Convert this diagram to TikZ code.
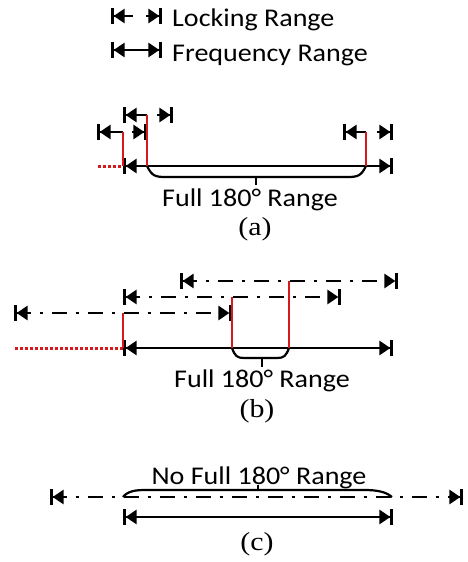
\documentclass[tikz,border=0pt]{standalone}
\usepackage{fontspec}
\usetikzlibrary{arrows.meta,positioning}
\newfontfamily\labelfont{Carlito}[FakeStretch=1.1]
\newfontfamily\capfont{Liberation Serif}[FakeStretch=1.15]
\definecolor{markred}{RGB}{215,25,30}
\tikzset{
  rng/.style={line width=2.6pt},
  freq/.style={rng,{Bar[width=16pt]Triangle[length=11pt,width=14pt]}-{Triangle[length=11pt,width=14pt]Bar[width=16pt]}},
  lockl/.style={rng,{Bar[width=16pt]Triangle[length=11pt,width=14pt]}-},
  lockr/.style={rng,-{Triangle[length=11pt,width=14pt]Bar[width=16pt]}},
  dashdot/.style={dash pattern=on 15pt off 9pt on 3pt off 9pt},
  osc/.style={draw=markred,line width=2.6pt},
  spill/.style={draw=markred,line width=3pt,dash pattern=on 3pt off 2pt},
  brace/.style={line width=2.2pt},
  txt/.style={font=\labelfont\fontsize{25.5}{27}\selectfont,anchor=base,inner sep=0pt},
  caption/.style={font=\capfont\fontsize{26}{28}\selectfont,anchor=base,inner sep=0pt},
}
\begin{document}
\begin{tikzpicture}[x=1pt,y=-1pt]
\useasboundingbox (0,0) rectangle (468,562);

% legend
\coordinate (k1) at (111,16); \coordinate (k2) at (133,16);
\coordinate (k3) at (146,16); \coordinate (k4) at (162,16);
\draw[lockl] (k1) -- (k2);
\draw[lockr] (k3) -- (k4);
\node[txt,anchor=base west] (lock) at (172,27) {Locking Range};
\coordinate (f1) at (111,50); \coordinate (f2) at (162,50);
\draw[freq] (f1) -- (f2);
\node[txt,anchor=base west] (freq) at (172,61) {Frequency Range};

% (a)
\coordinate (aL) at (123,166); \coordinate (aR) at (393,166);
\coordinate (aS) at (98,166);
\coordinate (a1) at (123,132); \coordinate (a2) at (147,115); \coordinate (a3) at (366,132);
\coordinate (a2b) at (147,166); \coordinate (a3b) at (366,166);
\draw[freq] (aL) -- (aR);
\draw[lockl] (97,132) -- (a1);
\draw[lockr] (132,132) -- (147,132);
\draw[lockl] (123,115) -- (a2);
\draw[lockr] (157,115) -- (173,115);
\draw[lockl] (343,132) -- (a3);
\draw[lockr] (377,132) -- (393,132);
\draw[brace] (a2b) .. controls (152,176) and (155,177) .. (166,177)
  -- (347,177) .. controls (358,177) and (361,176) .. (a3b);
\draw[brace] (256,177) -- (256,185);
\draw[spill] (aS) -- (aL);
\draw[osc] (a1) -- (aL);
\draw[osc] (a2) -- (a2b);
\draw[osc] (a3) -- (a3b);
\node[txt] (fulla) at (250,206) {Full 180° Range};
\node[caption] (capa) at (255,235) {(a)};

% (b)
\coordinate (bL) at (123,348); \coordinate (bR) at (393,348);
\coordinate (bS) at (15,348);
\coordinate (b1) at (123,313); \coordinate (b2) at (232,297); \coordinate (b3) at (289,281);
\coordinate (b1e) at (232,313);
\coordinate (b2b) at (232,348); \coordinate (b3b) at (289,348);
\draw[freq] (bL) -- (bR);
\draw[freq,dashdot] (14,313) -- (b1e);
\draw[freq,dashdot] (123,297) -- (341,297);
\draw[freq,dashdot] (180,281) -- (398,281);
\draw[brace] (b2b) .. controls (235,356) and (237,358) .. (244,358)
  -- (277,358) .. controls (284,358) and (286,356) .. (b3b);
\draw[brace] (262,358) -- (262,367);
\draw[spill] (bS) -- (bL);
\draw[osc] (b1) -- (bL);
\draw[osc] (b2) -- (b2b);
\draw[osc] (b3) -- (b3b);
\node[txt] (fullb) at (262,387) {Full 180° Range};
\node[caption] (capb) at (257,417) {(b)};

% (c)
\coordinate (cL) at (123,497); \coordinate (cR) at (392,497);
\node[txt] (nofull) at (259,484) {No Full 180° Range};
\draw[brace] (cL) .. controls (128,491) and (135,490) .. (146,490)
  -- (364,490) .. controls (378,490) and (386,492) .. (cR);
\draw[brace] (258,490) -- (258,485);
\draw[freq,dashdot] (50,497) -- (463,497);
\draw[freq] (123,517) -- (393,517);
\node[caption] (capc) at (257,550) {(c)};
\end{tikzpicture}
\end{document}
